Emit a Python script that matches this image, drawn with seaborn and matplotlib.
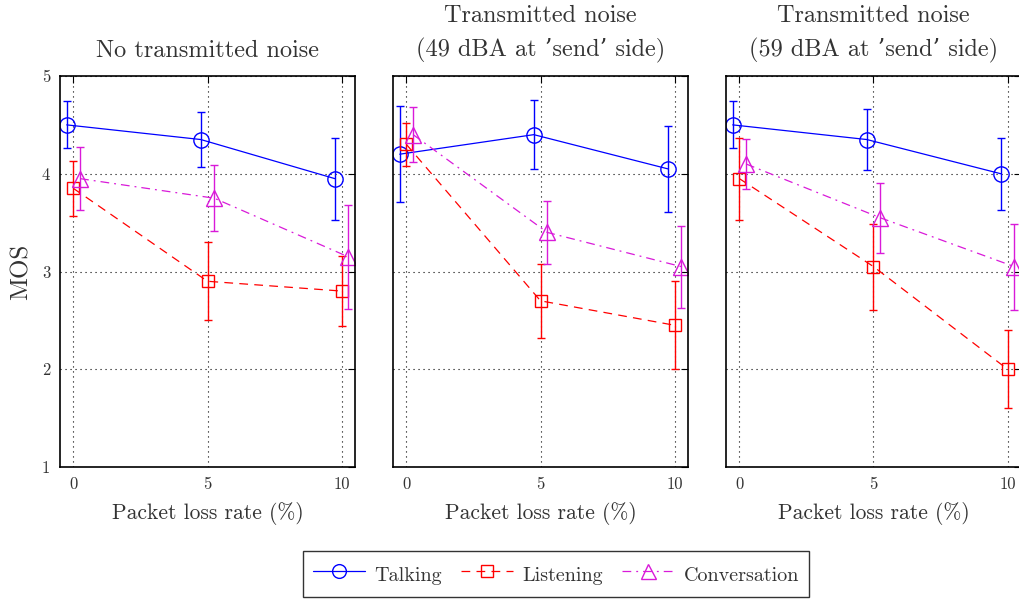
import matplotlib
matplotlib.use("Agg")
import matplotlib.pyplot as plt
import seaborn as sns
import pandas as pd
from matplotlib.lines import Line2D

# ---- data ----
loss_rates = [0, 5, 10]
panel_titles = ["No transmitted noise",
                "Transmitted noise\n(49 dBA at ’send’ side)",
                "Transmitted noise\n(59 dBA at ’send’ side)"]
series_names = ["Talking", "Listening", "Conversation"]

talking_mos = [[4.50, 4.35, 3.95], [4.20, 4.40, 4.05], [4.50, 4.35, 4.00]]
talking_err = [[0.24, 0.28, 0.42], [0.49, 0.35, 0.44], [0.24, 0.31, 0.37]]
listening_mos = [[3.85, 2.90, 2.80], [4.30, 2.70, 2.45], [3.95, 3.05, 2.00]]
listening_err = [[0.28, 0.40, 0.36], [0.22, 0.38, 0.45], [0.42, 0.44, 0.40]]
conversation_mos = [[3.95, 3.75, 3.15], [4.40, 3.40, 3.05], [4.10, 3.55, 3.05]]
conversation_err = [[0.32, 0.34, 0.53], [0.28, 0.32, 0.42], [0.26, 0.36, 0.44]]

rows = []
for p in range(3):
    for name, m, e in zip(series_names,
                          [talking_mos, listening_mos, conversation_mos],
                          [talking_err, listening_err, conversation_err]):
        for i, x in enumerate(loss_rates):
            rows.append(dict(panel=p, series=name, loss=x, mos=m[p][i], err=e[p][i]))
df = pd.DataFrame(rows)

# ---- style ----
sns.set_style("white")
plt.rcParams["font.family"] = ["cmr10", "DejaVu Serif"]
plt.rcParams["axes.unicode_minus"] = False
plt.rcParams["mathtext.fontset"] = "cm"
TXT = "#333333"

styles = {
    "Talking": dict(color=(0, 0, 1), marker="o", ls="-", ms=11, off=-0.25, dashes=None),
    "Listening": dict(color=(1, 0, 0), marker="s", ls="--", ms=9, off=0.0, dashes=(7, 5)),
    "Conversation": dict(color=(0.85, 0.1, 0.85), marker="^", ls="-.", ms=12, off=0.25, dashes=(7, 4, 1.5, 4)),
}

fig = plt.figure(figsize=(10.2, 6.02), dpi=100)
lefts = [60 / 1020, 393 / 1020, 726 / 1020]
W = 295 / 1020
B = (602 - 467) / 602
H = 391 / 602
axes = [fig.add_axes([l, B, W, H]) for l in lefts]

for p, ax in enumerate(axes):
    sub = df[df.panel == p]
    for name in series_names:
        st = styles[name]
        d = sub[sub.series == name].copy()
        d["xpos"] = d["loss"] + st["off"]
        sns.lineplot(data=d, x="xpos", y="mos", ax=ax, color=st["color"],
                     marker=st["marker"], markersize=st["ms"], markerfacecolor="none",
                     markeredgecolor=st["color"], markeredgewidth=1.0, lw=0.9,
                     estimator=None, sort=False, legend=False)
        if st["dashes"]:
            ax.lines[-1].set_dashes(st["dashes"])
        ax.errorbar(d["xpos"], d["mos"], yerr=d["err"], fmt="none",
                    ecolor=st["color"], elinewidth=1.0, capsize=3, capthick=1.0)
    ax.set_xlim(-0.5, 10.5)
    ax.set_ylim(1, 5)
    ax.set_xticks(loss_rates)
    ax.set_yticks([1, 2, 3, 4, 5])
    ax.grid(True, ls=(0, (1, 3.5)), color="black", lw=0.8)
    ax.tick_params(direction="in", top=True, right=True, length=5, width=0.8,
                   labelsize=12, pad=7, colors="black", labelcolor=TXT)
    for s in ax.spines.values():
        s.set_linewidth(1.2)
        s.set_color("black")
    ax.set_xlabel("Packet loss rate (%)", fontsize=15.5, labelpad=7, color=TXT)
    ax.set_ylabel("")
    ax.set_title(panel_titles[p], fontsize=17.5, pad=14, linespacing=1.6, color=TXT)
    if p == 0:
        ax.set_ylabel("MOS", fontsize=18, labelpad=7, color=TXT)
    else:
        ax.set_yticklabels([])

handles = []
for name in series_names:
    st = styles[name]
    h = Line2D([], [], color=st["color"], marker=st["marker"], markersize=st["ms"] * 0.9,
               markerfacecolor="none", lw=0.9, ls=st["ls"])
    if st["dashes"]:
        h.set_dashes(st["dashes"])
    handles.append(h)
leg = fig.legend(handles, series_names, loc="center", bbox_to_anchor=(556 / 1020, 1 - 574 / 602),
                 ncol=3, frameon=True, fancybox=False, edgecolor="black", fontsize=14.5,
                 handlelength=2.6, handleheight=1.55, handletextpad=0.45, columnspacing=0.95,
                 borderpad=0.5, borderaxespad=0)
leg.get_frame().set_linewidth(1.0)
for t in leg.get_texts():
    t.set_color(TXT)

fig.savefig("out.png", dpi=100)
